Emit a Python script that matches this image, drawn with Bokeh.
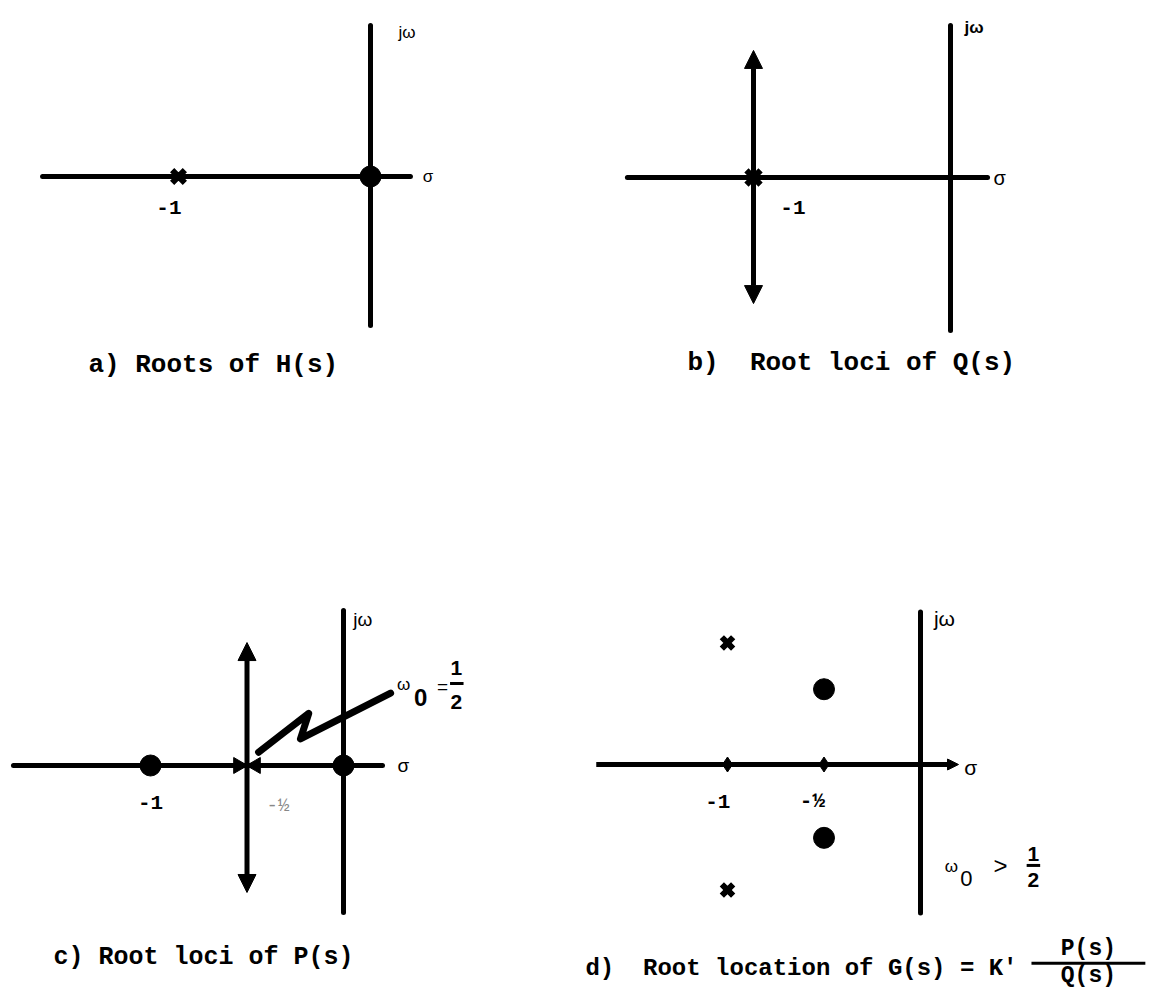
from bokeh.plotting import figure
from bokeh.layouts import column, row
from bokeh.models import Range1d, Arrow, NormalHead
from bokeh.core.properties import value
from bokeh.embed import file_html
from bokeh.resources import INLINE

# ---------------- data (s-plane coordinates) ----------------
# a) Roots of H(s)
a_pole_re = [-1.0]
a_pole_im = [0.0]
a_zero_re = [0.0]
a_zero_im = [0.0]
a_tick_re = [-1.0]
a_tick_labels = ["-1"]

# b) Root loci of Q(s)
b_pole_re = [-1.0]
b_pole_im = [0.0]
b_locus_re = -1.0
b_locus_ends = [0.645, -0.64]
b_tick_re = [-1.0]
b_tick_labels = ["-1"]

# c) Root loci of P(s)
c_zero_re = [-1.0, 0.0]
c_zero_im = [0.0, 0.0]
c_pole_re = [-0.5]
c_pole_im = [0.0]
c_locus_re = -0.5
c_locus_ends = [0.637, -0.658]
c_stroke_re = [-0.44, -0.31, -0.18, -0.223, 0.244]
c_stroke_im = [0.069, 0.17, 0.27, 0.138, 0.375]
c_tick_re = [-1.0, -0.5]
c_tick_labels = ["-1", "-½"]

# d) Root location of G(s)
d_pole_re = [-1.0, -1.0]
d_pole_im = [0.63, -0.65]
d_zero_re = [-0.5, -0.5]
d_zero_im = [0.39, -0.38]
d_tick_re = [-1.0, -0.5]
d_tick_labels = ["-1", "-½"]

MONO = value("Liberation Mono")
SANS = value("Liberation Sans")
NB = "\u00a0"


def panel(fx0, fy0, w, h, ox, oy, s):
    p = figure(width=w, height=h,
               x_range=Range1d((fx0 - ox) / s, (fx0 + w - ox) / s),
               y_range=Range1d((oy - fy0 - h) / s, (oy - fy0) / s),
               output_backend="svg", toolbar_location=None, min_border=0,
               x_axis_location=None, y_axis_location=None,
               outline_line_color=None, background_fill_color="white",
               border_fill_color="white")
    p.grid.grid_line_color = None
    return p


def axes(p, x0, x1, y0, y1, lw=5):
    p.line([x0, x1], [0, 0], line_width=lw, line_color="black", line_cap="round")
    p.line([0, 0], [y0, y1], line_width=lw, line_color="black", line_cap="round")


def txt(p, x, y, t, font=MONO, size="21px", style="bold", align="center", color="black"):
    p.text(x=x, y=y, text=t, text_font=font, text_font_size=size,
           text_font_style=style, text_align=align, text_baseline="middle",
           text_color=color)


def locus_arrows(p, re, ends):
    for e in ends:
        p.add_layout(Arrow(end=NormalHead(size=18, fill_color="black", line_color="black"),
                           x_start=re, y_start=0, x_end=re, y_end=e,
                           line_width=5, line_color="black"))


W, H = 575, 496

# ---------------- panel a ----------------
pa = panel(0, 0, W, H, 370, 176, 192)
axes(pa, -1.708, 0.208, 0.786, -0.776)
pa.scatter(a_pole_re, a_pole_im, marker="x", size=18, line_width=6, line_color="black")
pa.scatter(a_zero_re, a_zero_im, marker="circle", size=21, fill_color="black", line_color="black")
txt(pa, [a_tick_re[0] - 0.05], [-0.16], a_tick_labels)
txt(pa, [0.19], [0.75], ["jω"], font=SANS, size="17px", style="normal")
txt(pa, [0.30], [0.0], ["σ"], font=SANS, size="17px", style="normal")
txt(pa, [-1.469], [-0.984], ["a) Roots of H(s)"], size="26px", align="left")

# ---------------- panel b ----------------
pb = panel(W, 0, W, H, 950, 177, 197)
axes(pb, -1.64, 0.188, 0.772, -0.777)
locus_arrows(pb, b_locus_re, b_locus_ends)
pb.scatter(b_pole_re, b_pole_im, marker="x", size=20, line_width=6, line_color="black")
txt(pb, [b_tick_re[0] + 0.2], [-0.15], b_tick_labels)
txt(pb, [0.12], [0.76], ["jω"], font=SANS, size="17px", style="bold")
txt(pb, [0.25], [0.0], ["σ"], font=SANS, size="20px", style="normal")
txt(pb, [-1.335], [-0.944], ["b)" + NB + " Root loci of Q(s)"], size="26px", align="left")

# ---------------- panel c ----------------
pc = panel(0, H, W, H, 343, 765, 193)
axes(pc, -1.71, 0.202, 0.803, -0.762, lw=5)
locus_arrows(pc, c_locus_re, c_locus_ends)
pc.scatter(c_zero_re, c_zero_im, marker="circle", size=21, fill_color="black", line_color="black")
# double pole drawn as a bow-tie
pc.scatter([c_pole_re[0] - 0.045], c_pole_im, marker="triangle", size=16, angle=-1.5708,
           fill_color="black", line_color="black")
pc.scatter([c_pole_re[0] + 0.045], c_pole_im, marker="triangle", size=16, angle=1.5708,
           fill_color="black", line_color="black")
pc.line(c_stroke_re, c_stroke_im, line_width=7, line_color="black",
        line_join="round", line_cap="round")
txt(pc, [c_tick_re[0]], [-0.19], [c_tick_labels[0]])
txt(pc, [c_tick_re[1] + 0.16], [-0.21], [c_tick_labels[1]], size="19px", style="normal", color="#888888")
txt(pc, [0.10], [0.755], ["jω"], font=SANS, size="19px", style="normal")
txt(pc, [0.31], [0.0], ["σ"], font=SANS, size="19px", style="normal")
txt(pc, [0.311], [0.42], ["ω"], font=SANS, size="17px", style="normal")
txt(pc, [0.40], [0.352], ["0"], font=SANS, size="24px", style="bold")
txt(pc, [0.513], [0.41], ["="], font=SANS, size="19px", style="normal")
txt(pc, [0.585], [0.505], ["1"], font=SANS, size="21px", style="bold")
pc.line([0.552, 0.622], [0.425, 0.425], line_width=3, line_color="black")
txt(pc, [0.585], [0.33], ["2"], font=SANS, size="21px", style="bold")
txt(pc, [-1.503], [-0.995], ["c) Root loci of P(s)"], size="25px", align="left")

# ---------------- panel d ----------------
pd_ = panel(W, H, W, H, 920, 764, 193)
pd_.line([0, 0], [0.79, -0.77], line_width=5, line_color="black", line_cap="round")
pd_.add_layout(Arrow(end=NormalHead(size=11, fill_color="black", line_color="black"),
                     x_start=-1.68, y_start=0, x_end=0.197, y_end=0,
                     line_width=5, line_color="black"))
pd_.scatter(d_tick_re, [0.0] * len(d_tick_re), marker="diamond", size=15,
            fill_color="black", line_color="black")
pd_.scatter(d_pole_re, d_pole_im, marker="x", size=16, line_width=6, line_color="black")
pd_.scatter(d_zero_re, d_zero_im, marker="circle", size=21, fill_color="black", line_color="black")
txt(pd_, [d_tick_re[0] - 0.05], [-0.19], [d_tick_labels[0]])
txt(pd_, [d_tick_re[1] - 0.06], [-0.19], [d_tick_labels[1]], size="21px")
txt(pd_, [0.124], [0.756], ["jω"], font=SANS, size="21px", style="normal")
txt(pd_, [0.26], [-0.015], ["σ"], font=SANS, size="21px", style="normal")
txt(pd_, [0.16], [-0.528], ["ω"], font=SANS, size="17px", style="normal")
txt(pd_, [0.238], [-0.59], ["0"], font=SANS, size="22px", style="normal")
txt(pd_, [0.415], [-0.523], [">"], font=SANS, size="24px", style="normal")
txt(pd_, [0.585], [-0.466], ["1"], font=SANS, size="21px", style="bold")
pd_.line([0.55, 0.62], [-0.523, -0.523], line_width=3, line_color="black")
txt(pd_, [0.585], [-0.60], ["2"], font=SANS, size="21px", style="bold")
txt(pd_, [-1.736], [-1.057], ["d)" + NB + " Root location of G(s) = K'"], size="24px", align="left")
txt(pd_, [0.87], [-0.955], ["P(s)"], size="23px")
pd_.line([0.575, 1.165], [-1.03, -1.03], line_width=3, line_color="black")
txt(pd_, [0.87], [-1.095], ["Q(s)"], size="23px")

layout = column(row(pa, pb), row(pc, pd_))
open("out.html", "w").write(file_html(layout, INLINE))
